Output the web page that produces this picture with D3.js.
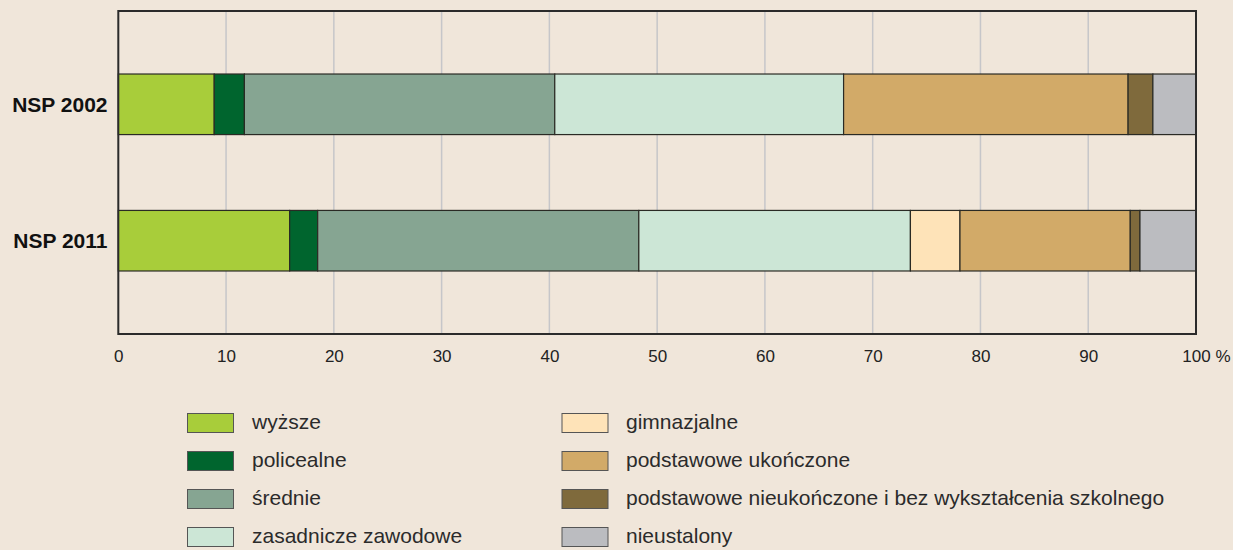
<!DOCTYPE html>
<html><head><meta charset="utf-8">
<script src="https://cdn.jsdelivr.net/npm/d3@7"></script>
<style>
body{margin:0;background:#f0e6da;}
svg{display:block;font-family:"Liberation Sans",Arial,sans-serif;}
</style></head>
<body>
<svg id="c" width="1233" height="550"></svg>
<script>
const categories = ["NSP 2002", "NSP 2011"];
const seriesNames = ["wyższe","policealne","średnie","zasadnicze zawodowe","gimnazjalne","podstawowe ukończone","podstawowe nieukończone i bez wykształcenia szkolnego","nieustalony"];
const seriesColors = ["#a8cd3a","#00652e","#86a592","#cce6d6","#fee3b8","#d2aa68","#7f6a3c","#bbbcc0"];
const values2002 = [8.9, 2.8, 28.8, 26.8, 0, 26.4, 2.3, 4.0];
const values2011 = [15.9, 2.6, 29.8, 25.2, 4.6, 15.8, 0.9, 5.2];
const xTicks = [0,10,20,30,40,50,60,70,80,90,100];

const svg = d3.select("#c");
const L=118.3, R=1196, T=11, B=334;
const x = d3.scaleLinear().domain([0,100]).range([L,R]);
const y = d3.scaleBand().domain(categories).range([T,B]).paddingInner(0.556).paddingOuter(0.462);

// grid
svg.append("g").selectAll("line").data(xTicks.slice(1,-1)).join("line")
  .attr("x1",d=>x(d)).attr("x2",d=>x(d)).attr("y1",T).attr("y2",B)
  .attr("stroke","#c6c6c9").attr("stroke-width",1.5);

// bars
const data = [values2002, values2011];
categories.forEach((c,i)=>{
  let acc=0;
  const segs = data[i].map((v,j)=>{const s={x0:acc,x1:acc+v,j}; acc+=v; return s;}).filter(s=>s.x1>s.x0);
  svg.append("g").selectAll("rect").data(segs).join("rect")
    .attr("x",d=>x(d.x0)).attr("width",d=>x(d.x1)-x(d.x0))
    .attr("y",y(c)).attr("height",y.bandwidth())
    .attr("fill",d=>seriesColors[d.j]).attr("stroke","#2a2a24").attr("stroke-width",1.2);
});

// frame
svg.append("rect").attr("x",L).attr("y",T).attr("width",R-L).attr("height",B-T)
  .attr("fill","none").attr("stroke","#2b2b2b").attr("stroke-width",2);

// x axis labels
const xa = svg.append("g").attr("transform",`translate(0,${B})`)
  .call(d3.axisBottom(x).tickValues(xTicks).tickSize(0).tickPadding(16).tickFormat(d=>d===100?"100 %":d));
xa.select(".domain").remove();
xa.selectAll("text").attr("font-size",17).attr("fill","#222").style("font-family","'Liberation Sans',Arial,sans-serif")
  .attr("text-anchor",d=>d===100?"start":"middle").attr("dx",d=>d===100?-14.2:0);

// y labels
svg.append("g").selectAll("text").data(categories).join("text")
  .attr("x",107.5).attr("y",d=>y(d)+y.bandwidth()/2).attr("dy","0.36em")
  .attr("text-anchor","end").attr("font-weight","bold").attr("font-size",21).attr("fill","#111").text(d=>d);

// legend
const lg = svg.append("g");
seriesNames.forEach((n,i)=>{
  const col = Math.floor(i/4), row = i%4;
  const sx = col===0?187.5:562, tx = col===0?252:626;
  const cy = 423 + row*38;
  lg.append("rect").attr("x",sx).attr("y",cy-9.5).attr("width",46).attr("height",19)
    .attr("fill",seriesColors[i]).attr("stroke","#555").attr("stroke-width",1);
  lg.append("text").attr("x",tx).attr("y",cy-1.5).attr("dy","0.35em").attr("font-size",21).attr("fill","#2b2b2b").text(n);
});
</script>
</body></html>
